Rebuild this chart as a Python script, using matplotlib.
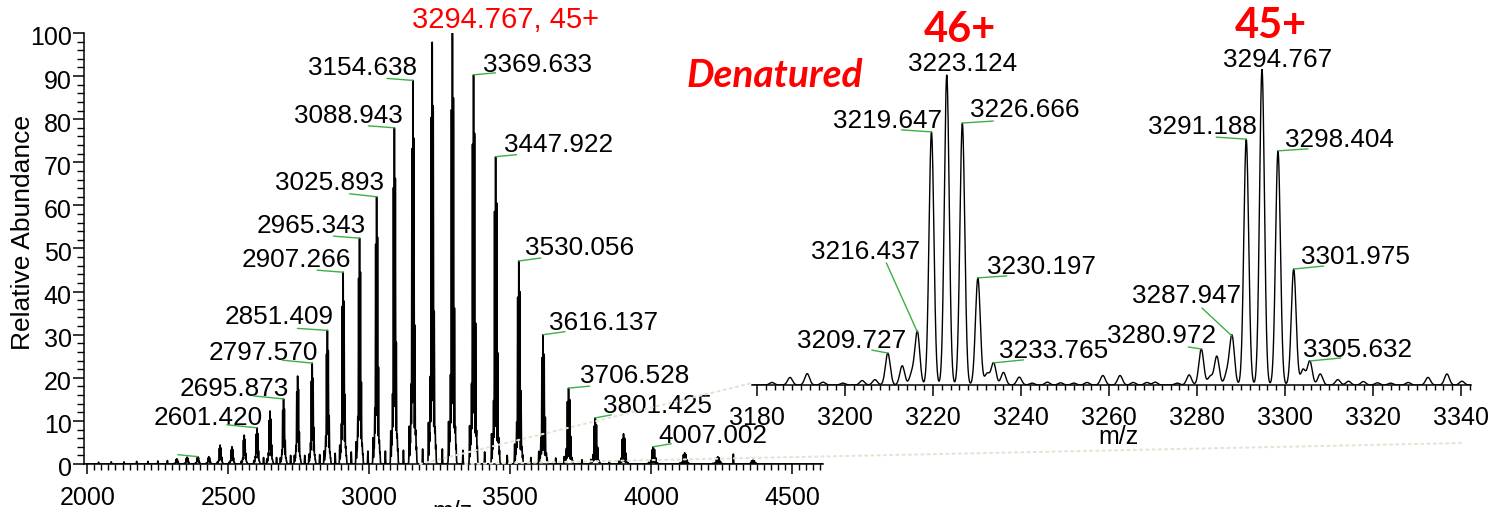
import numpy as np
import matplotlib
matplotlib.use('Agg')
import matplotlib.pyplot as plt
from matplotlib.patches import ConnectionPatch
from matplotlib.ticker import MultipleLocator
import matplotlib.transforms as mtransforms

plt.rcParams['font.family'] = ['Liberation Sans', 'DejaVu Sans']

W, H = 1508, 507
GREEN = '#3cb043'
RED = '#ff0000'

# ---------------- data ----------------
# main spectrum: charge-state apexes (m/z, relative abundance)
main_z = [64, 63, 62, 61, 60, 59, 58, 57, 56, 55, 54, 53, 52, 51, 50, 49, 48,
          47, 46, 45, 44, 43, 42, 41, 40, 39, 38, 37, 36, 35, 34]
main_mz = [2317.0, 2353.7, 2391.6, 2430.9, 2471.0, 2513.0, 2556.5, 2601.420,
           2647.8, 2695.873, 2745.8, 2797.570, 2851.409, 2907.266, 2965.343,
           3025.893, 3088.943, 3154.638, 3223.124, 3294.767, 3369.633,
           3447.922, 3530.056, 3616.137, 3706.528, 3801.425, 3901.5,
           4007.002, 4118.2, 4235.8, 4360.4]
main_int = [1.2, 1.6, 1.7, 1.7, 4.4, 4.0, 6.7, 8.4, 12.3, 15.1, 20.4, 23.4,
            31.0, 44.5, 52.4, 62.0, 78.0, 89.0, 97.9, 100.0, 90.3, 71.3, 47.1,
            30.0, 17.6, 10.7, 7.0, 4.0, 2.6, 1.7, 0.9]

# cluster pattern around each charge state (offsets at 46+, relative heights)
cluster_off = [-13.4, -10.1, -7.9, -6.7, -3.5, 0.0, 3.5, 7.1, 9.2, 10.6, 12.9]
cluster_rel = [0.10, 0.06, 0.04, 0.17, 0.82, 1.0, 0.85, 0.35, 0.04, 0.07, 0.04]
# unresolved base under each charge state (relative height, width at 46+)
base_rel = 0.08
base_width = 6.0

# minor peaks between charge states and baseline bumps (main spectrum)
minor_mz = [2040, 2085, 2130, 2175, 2215, 2250, 2284, 2625, 2671, 2721, 2771,
            2824, 2879, 2936, 2995, 3057, 3121, 3189, 3259, 3332, 3409, 3489,
            3573, 3661, 3754, 3851, 4291]
minor_int = [0.4, 0.5, 0.5, 0.6, 0.6, 0.7, 0.8, 1.5, 1.5, 2.0, 2.0, 2.2, 2.5,
             2.8, 3.0, 3.0, 3.2, 3.5, 3.5, 3.2, 2.8, 2.0, 1.5, 1.4, 1.0, 0.7, 2.3]

# zoomed spectrum (inset)
inset_mz = [3183.4, 3187.5, 3191.4, 3195.0, 3199.5, 3203.9, 3206.8, 3209.727,
            3213.0, 3215.2, 3216.437, 3219.647, 3223.124, 3226.666, 3230.197,
            3232.3, 3233.765, 3236.0, 3239.6, 3242.5, 3246.0, 3249.0, 3252.0,
            3255.0, 3258.6, 3262.5, 3265.5, 3268.6, 3270.5, 3275.5, 3278.2,
            3280.972, 3283.0, 3284.5, 3286.8, 3287.947, 3291.188, 3294.767,
            3298.404, 3301.975, 3304.1, 3305.632, 3308.0, 3312.0, 3314.4,
            3317.8, 3321.0, 3324.0, 3328.0, 3332.5, 3336.8, 3340.2]
inset_int = [0.8, 2.4, 3.6, 0.9, 0.6, 1.4, 1.7, 10.1,
             6.1, 3.6, 16.8, 80.1, 98.1, 82.9, 33.9,
             3.6, 7.0, 4.0, 2.5, 0.6, 0.9, 0.7, 0.6,
             0.8, 3.0, 3.0, 0.8, 0.8, 0.9, 0.6, 3.2,
             11.4, 2.7, 9.1, 3.6, 15.5, 77.8, 100.0,
             74.1, 36.7, 4.9, 7.6, 3.5, 1.7, 1.2,
             1.1, 0.7, 0.6, 0.8, 2.4, 3.5, 1.2]

# labels
main_left_labels = [2601.420, 2695.873, 2797.570, 2851.409, 2907.266,
                    2965.343, 3025.893, 3088.943, 3154.638]
main_right_labels = [3369.633, 3447.922, 3530.056, 3616.137, 3706.528,
                     3801.425, 4007.002]
main_top_label = 3294.767
unlabeled_leader = 2391.6
inset_labels = [3209.727, 3216.437, 3219.647, 3223.124, 3226.666, 3230.197,
                3233.765, 3280.972, 3287.947, 3291.188, 3294.767, 3298.404,
                3301.975, 3305.632]
charge_headers = {3223.124: '46+', 3294.767: '45+'}

# ---------------- layout (pixels) ----------------
left_text_off = {2601.420: (6, 3, -30, 3), 2695.873: (5, 3, -30, 3),
                 2797.570: (6, 3, -30, 3), 2851.409: (6, 6, -30, 2),
                 2907.266: (8, 5, -26, 2), 2965.343: (6, 5, -26, 2),
                 3025.893: (7, 7, -27, 3), 3088.943: (8, 5, -26, 2),
                 3154.638: (4, 5, -26, 2)}
right_text_off = {3369.633: (9, 3, 22, 2), 3447.922: (8, 5, 21, 2),
                  3530.056: (6, 6, 22, 3), 3616.137: (6, 5, 22, 3),
                  3706.528: (11, 5, 21, 2), 3801.425: (8, 5, 16, 3),
                  4007.002: (5, 4, 18, 3)}
inset_off = {3223.124: ('center', 16, 4, None), 3219.647: ('right', 11, 4, (-30, 2)),
             3226.666: ('left', 8, 6, (31, 2)), 3216.437: ('right', 3, 73, (-31, 69)),
             3230.197: ('left', 9, 4, (29, 2)), 3209.727: ('right', 18, 5, (-16, 3)),
             3233.765: ('left', 5, 5, (30, 3)), 3294.767: ('center', 16, 2, None),
             3291.188: ('right', 11, 5, (-30, 2)), 3298.404: ('left', 7, 4, (30, 2)),
             3301.975: ('left', 7, 5, (30, 3)), 3287.947: ('right', 9, 33, (-30, 28)),
             3280.972: ('right', 15, 6, (-13, 2)), 3305.632: ('left', -7, 4, (31, 3))}
header_off = {3223.124: (13, 33), 3294.767: (9, 31)}


def fx(px):
    return px / W


def fy(py):
    return 1 - py / H


def profile(x, centers, heights, sigmas):
    y = np.zeros_like(x)
    for c, h, s in zip(centers, heights, sigmas):
        m = np.abs(x - c) < 8 * s
        y[m] += h * np.exp(-0.5 * ((x[m] - c) / s) ** 2)
    return y


fig = plt.figure(figsize=(W / 100, H / 100), dpi=100)

# ---------------- main axes ----------------
ax = fig.add_axes([fx(84), fy(464), fx(823) - fx(84), fy(33) - fy(464)])
ax.set_facecolor('none')
xm = np.arange(1988.0, 4610.0, 0.05)
centers, heights, sigmas = [], [], []
for z, c, h in zip(main_z, main_mz, main_int):
    for o, r in zip(cluster_off, cluster_rel):
        centers.append(c + o * 46.0 / z)
        heights.append(h * r * (1 - base_rel))
        sigmas.append(0.7)
    centers.append(c)
    heights.append(h * base_rel)
    sigmas.append(base_width * 46.0 / z)
centers += minor_mz
heights += minor_int
sigmas += [0.7] * len(minor_mz)
ym = profile(xm, centers, heights, sigmas)
ax.plot(xm, ym, color='black', lw=1.2)
ax.set_xlim(1988.3, 4608.9)
ax.set_ylim(0, 100)
for s in ('top', 'right'):
    ax.spines[s].set_visible(False)
for s in ('left', 'bottom'):
    ax.spines[s].set_linewidth(1.1)
ax.xaxis.set_major_locator(MultipleLocator(500))
ax.xaxis.set_minor_locator(MultipleLocator(25))
ax.yaxis.set_major_locator(MultipleLocator(10))
ax.yaxis.set_minor_locator(MultipleLocator(2))
ax.tick_params(axis='x', which='major', direction='out', length=7, width=1.1,
               labelsize=18, pad=8.5)
ax.tick_params(axis='x', which='minor', direction='out', length=4, width=1)
ax.tick_params(axis='y', which='major', direction='out', length=8, width=1.1,
               labelsize=18, pad=0.8)
ax.tick_params(axis='y', which='minor', direction='out', length=5, width=1)
off = mtransforms.ScaledTranslation(0, -3 / 100, fig.dpi_scale_trans)
for lab in ax.get_yticklabels():
    lab.set_transform(lab.get_transform() + off)

fig.text(fx(23), fy(232), 'Relative Abundance', rotation=90, ha='center',
         va='center', fontsize=19)
fig.text(fx(452), fy(500), 'm/z', ha='center', va='top', fontsize=18)

idx = {c: i for i, c in enumerate(main_mz)}


def leader(a, x, y, dx, dy):
    a.annotate('', xy=(x, y), xytext=(dx, dy), textcoords='offset pixels',
               arrowprops=dict(arrowstyle='-', color=GREEN, lw=1.0,
                               shrinkA=0, shrinkB=0), annotation_clip=False)


for c in main_left_labels:
    h = main_int[idx[c]]
    dx, dy, lx, ly = left_text_off[c]
    ax.annotate(f'{c:.3f}', xy=(c, h), xytext=(dx, dy), textcoords='offset pixels',
                ha='right', va='baseline', fontsize=18.8, annotation_clip=False)
    leader(ax, c, h, lx, ly)
for c in main_right_labels:
    h = main_int[idx[c]]
    dx, dy, lx, ly = right_text_off[c]
    ax.annotate(f'{c:.3f}', xy=(c, h), xytext=(dx, dy), textcoords='offset pixels',
                ha='left', va='baseline', fontsize=18.8, annotation_clip=False)
    leader(ax, c, h, lx, ly)
leader(ax, unlabeled_leader, main_int[idx[unlabeled_leader]], -20, 2)
ax.annotate(f'{main_top_label:.3f}, 45+', xy=(main_top_label, 100), xytext=(-40, 5),
            textcoords='offset pixels', ha='left', va='baseline', fontsize=21,
            color=RED, annotation_clip=False)

# ---------------- inset axes ----------------
ins = fig.add_axes([fx(752), fy(385), fx(1471) - fx(752), fy(69) - fy(385)])
ins.set_facecolor('none')
xi = np.arange(3178.9, 3342.3, 0.02)
yi = profile(xi, inset_mz, inset_int, [0.55] * len(inset_mz))
ins.plot(xi, yi, color='black', lw=1.0)
ins.set_xlim(3178.86, 3342.27)
ins.set_ylim(0, 100)
for s in ('top', 'right', 'left'):
    ins.spines[s].set_visible(False)
ins.spines['bottom'].set_linewidth(1.1)
ins.set_yticks([])
ins.xaxis.set_major_locator(MultipleLocator(20))
ins.xaxis.set_minor_locator(MultipleLocator(2))
ins.tick_params(axis='x', which='major', direction='out', length=8, width=1.1,
                labelsize=18, pad=7)
ins.tick_params(axis='x', which='minor', direction='out', length=3.5, width=1)
fig.text(fx(1118), fy(444), 'm/z', ha='center', va='baseline', fontsize=18)

iidx = {c: i for i, c in enumerate(inset_mz)}
for c in inset_labels:
    h = inset_int[iidx[c]]
    ha, dx, dy, ld = inset_off[c]
    ins.annotate(f'{c:.3f}', xy=(c, h), xytext=(dx, dy), textcoords='offset pixels',
                 ha=ha, va='baseline', fontsize=18.8, annotation_clip=False)
    if ld is not None:
        leader(ins, c, h, ld[0], ld[1])
for c, t in charge_headers.items():
    h = inset_int[iidx[c]]
    dx, dy = header_off[c]
    ins.annotate(t, xy=(c, h), xytext=(dx, dy), textcoords='offset pixels',
                 ha='center', va='baseline', fontsize=30, fontweight='bold',
                 family=['Lato', 'DejaVu Sans'], color=RED, annotation_clip=False)

fig.text(fx(686), fy(87), 'Denatured', ha='left', va='baseline', fontsize=28,
         fontweight='bold', style='italic', family=['Lato', 'DejaVu Sans'],
         color=RED)

# zoom connector lines
for (mx, px, py) in [(3180, 752, 383), (3340, 1463, 443)]:
    cp = ConnectionPatch(xyA=(mx, 0), coordsA=ax.transData,
                         xyB=(fx(px), fy(py)), coordsB=fig.transFigure,
                         color='#e4e4d4', lw=1.5, linestyle=(0, (1, 2)), zorder=10)
    fig.add_artist(cp)

fig.savefig('out.png', dpi=100)
